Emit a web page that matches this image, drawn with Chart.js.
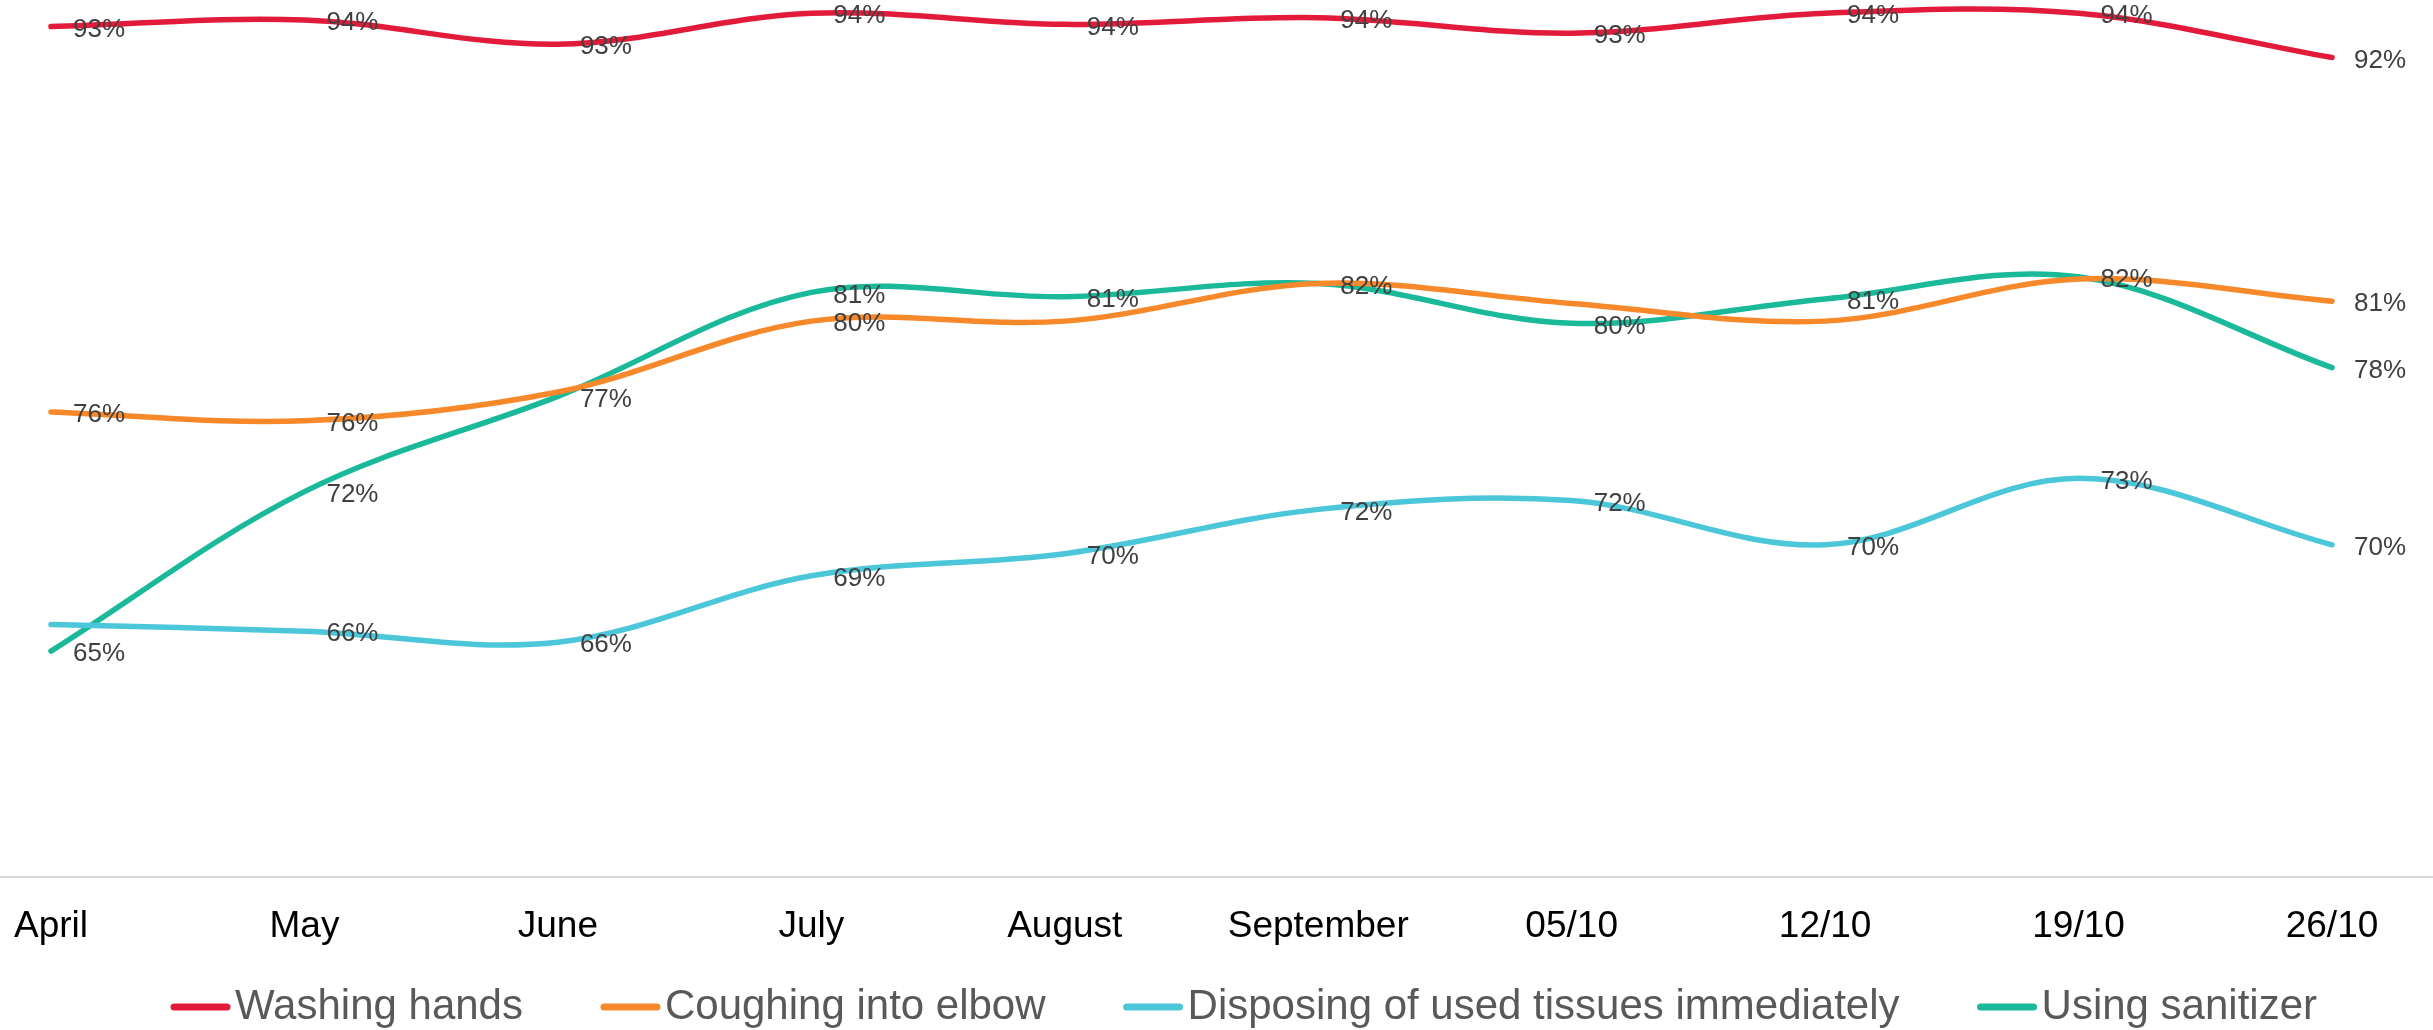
<!DOCTYPE html>
<html>
<head>
<meta charset="utf-8">
<script src="https://cdn.jsdelivr.net/npm/chart.js@4.4.0/dist/chart.umd.min.js"></script>
<style>
html,body{margin:0;padding:0;background:#fff;overflow:hidden}
#wrap{width:2433px;height:1030px;position:relative}
</style>
</head>
<body>
<div id="wrap"><canvas id="c" width="2433" height="1030"></canvas></div>
<script>
// ---- data ----
const categories = ['April','May','June','July','August','September','05/10','12/10','19/10','26/10'];
const washingHands      = [93.4, 93.7, 92.6, 94.0, 93.5, 93.8, 93.1, 94.0, 94.0, 92.0];
const coughingIntoElbow = [76.0, 75.6, 76.9, 80.1, 80.1, 81.8, 80.9, 80.1, 82.0, 81.0];
const disposingTissues  = [66.4, 66.1, 65.6, 68.6, 69.6, 71.6, 72.0, 70.0, 73.0, 70.0];
const usingSanitizer    = [65.2, 72.4, 76.7, 81.4, 81.2, 81.8, 80.0, 81.1, 82.1, 78.0];
const seriesNames  = ['Washing hands','Coughing into elbow','Disposing of used tissues immediately','Using sanitizer'];
const seriesValues = [washingHands, coughingIntoElbow, disposingTissues, usingSanitizer];
const seriesColors = ['#E31B3B','#F7892A','#4CC7D9','#19B99A'];
const yMin = 55, yMax = 94.6;

const FONT = '"Liberation Sans", Arial, Helvetica, sans-serif';

// full-width x axis line
const axisLinePlugin = {
  id: 'axisLine',
  beforeDatasetsDraw(chart) {
    const ctx = chart.ctx, y = chart.scales.x.top;
    ctx.save();
    ctx.strokeStyle = '#D9D9D9';
    ctx.lineWidth = 2;
    ctx.beginPath();
    ctx.moveTo(0, y);
    ctx.lineTo(chart.width, y);
    ctx.stroke();
    ctx.restore();
  }
};

// value labels right of each point, overlapping ones hidden
const pointLabelPlugin = {
  id: 'pointLabels',
  afterDatasetsDraw(chart) {
    const ctx = chart.ctx;
    ctx.save();
    ctx.font = '26px ' + FONT;
    ctx.fillStyle = '#404040';
    ctx.textAlign = 'left';
    ctx.textBaseline = 'middle';
    const placed = [];
    for (let d = chart.data.datasets.length - 1; d >= 0; d--) {
      const meta = chart.getDatasetMeta(d);
      meta.data.forEach((pt, i) => {
        const v = chart.data.datasets[d].data[i];
        const text = Math.round(v) + '%';
        const w = ctx.measureText(text).width;
        const x = pt.x + 22, y = pt.y + 3;
        const box = {l: x, r: x + w, t: y - 14, b: y + 14};
        if (placed.some(p => p.l < box.r && box.l < p.r && p.t < box.b && box.t < p.b)) return;
        placed.push(box);
        ctx.fillText(text, x, y);
      });
    }
    ctx.restore();
  }
};

// legend drawn below the axis
const legendPlugin = {
  id: 'customLegend',
  afterDraw(chart) {
    const ctx = chart.ctx;
    ctx.save();
    ctx.font = '42px ' + FONT;
    ctx.textBaseline = 'middle';
    ctx.textAlign = 'left';
    const sw = 59, gap = 5, itemGap = 78, y = 1007;
    const items = chart.data.datasets.map(ds => ({label: ds.label, color: ds.borderColor, w: ctx.measureText(ds.label).width}));
    const total = items.reduce((s, it) => s + sw + gap + it.w, 0) + itemGap * (items.length - 1);
    let x = 1244 - total / 2;
    items.forEach(it => {
      ctx.strokeStyle = it.color;
      ctx.lineWidth = 7;
      ctx.lineCap = 'round';
      ctx.beginPath();
      ctx.moveTo(x + 3, y);
      ctx.lineTo(x + sw - 3, y);
      ctx.stroke();
      ctx.fillStyle = '#595959';
      ctx.fillText(it.label, x + sw + gap, y);
      x += sw + gap + it.w + itemGap;
    });
    ctx.restore();
  }
};

new Chart(document.getElementById('c'), {
  type: 'line',
  data: {
    labels: categories,
    datasets: seriesNames.map((n, i) => ({
      label: n,
      data: seriesValues[i],
      borderColor: seriesColors[i],
      backgroundColor: seriesColors[i],
      borderWidth: 5.5,
      pointRadius: 0,
      tension: 0.35,
      fill: false,
      clip: false
    }))
  },
  options: {
    responsive: false,
    animation: false,
    devicePixelRatio: 1,
    layout: {padding: {left: 51, right: 101, top: 0, bottom: 0}},
    plugins: {legend: {display: false}, tooltip: {enabled: false}},
    elements: {line: {borderCapStyle: 'round', borderJoinStyle: 'round'}},
    scales: {
      x: {
        offset: false,
        grid: {display: false, drawTicks: false},
        border: {display: false},
        ticks: {color: '#000000', font: {size: 37, family: FONT}, padding: 28, maxRotation: 0, autoSkip: false},
        afterFit(s) { s.height = 153; s.paddingLeft = 0; s.paddingRight = 0; }
      },
      y: {display: false, min: yMin, max: yMax}
    }
  },
  plugins: [axisLinePlugin, pointLabelPlugin, legendPlugin]
});
</script>
</body>
</html>
